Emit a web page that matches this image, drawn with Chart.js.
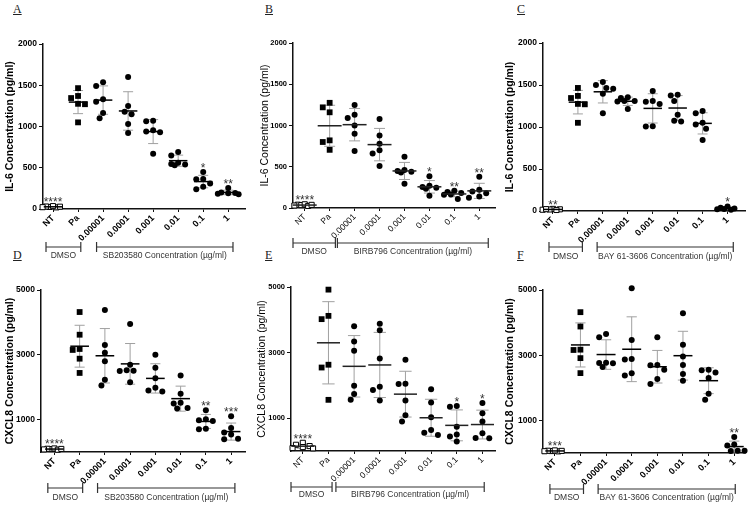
<!DOCTYPE html>
<html>
<head>
<meta charset="utf-8">
<script src="https://cdn.jsdelivr.net/npm/chart.js@4.4.1/dist/chart.umd.min.js"></script>
<style>
    html, body { margin: 0; padding: 0; background: #fff; }
    #wrap { position: relative; width: 750px; height: 508px; overflow: hidden; }
    #wrap canvas { position: absolute; }
    .letter {
        position: absolute;
        font-family: "Liberation Serif", "Times New Roman", serif;
        font-size: 12px;
        line-height: 12px;
        color: #222;
        text-decoration: underline;
    }
</style>
</head>
<body>
<div id="wrap">
    <div class="letter" style="left:13px;top:3px">A</div>
    <div class="letter" style="left:265px;top:3px">B</div>
    <div class="letter" style="left:517px;top:3px">C</div>
    <div class="letter" style="left:13px;top:249px">D</div>
    <div class="letter" style="left:265px;top:249px">E</div>
    <div class="letter" style="left:517px;top:249px">F</div>

    <canvas id="cA" width="250" height="264" style="left:0;top:0"></canvas>
    <canvas id="cB" width="250" height="264" style="left:250px;top:0"></canvas>
    <canvas id="cC" width="250" height="264" style="left:500px;top:0"></canvas>
    <canvas id="cD" width="250" height="258" style="left:0;top:250px"></canvas>
    <canvas id="cE" width="250" height="258" style="left:250px;top:250px"></canvas>
    <canvas id="cF" width="250" height="258" style="left:500px;top:250px"></canvas>
</div>

<script>
/* ======================================================================
   Cytokine scatter panels (IL-6 / CXCL8) – 6 panels, mean ± SD
====================================================================== */

console.log("✓ panels loading");

// Kategorier (x-akse)
const categories = ["NT", "Pa", "0.00001", "0.0001", "0.001", "0.01", "0.1", "1"];

// Y-akse ticks
const il6Ticks = [0, 500, 1000, 1500, 2000];
const cxcl8Ticks = [1000, 3000, 5000];

// A – IL-6, SB203580
const il6SB = [
    [25, 30, 20, 35, 28, 22],
    [1465, 1370, 1345, 1275, 1270, 1050],
    [1535, 1490, 1330, 1300, 1165, 1100],
    [1600, 1250, 1180, 1150, 1030, 920],
    [1070, 1065, 955, 940, 930, 670],
    [690, 650, 560, 545, 540, 530],
    [450, 365, 360, 310, 270, 240],
    [255, 200, 195, 190, 185, 180]
];
const starsA = ["****", "", "", "", "", "", "*", "**"];

// B – IL-6, BIRB796
const il6BIRB = [
    [40, 35, 30, 45, 25, 38],
    [1275, 1220, 1160, 820, 800, 705],
    [1250, 1130, 1090, 1000, 900, 690],
    [1080, 880, 780, 700, 660, 510],
    [620, 460, 450, 440, 430, 295],
    [385, 271, 255, 246, 234, 150],
    [210, 194, 182, 165, 161, 110],
    [380, 220, 200, 180, 140, 125]
];
const starsB = ["****", "", "", "", "", "*", "**", "**"];

// C – IL-6, BAY 61-3606
const il6BAY = [
    [20, 15, 25, 18, 22, 12],
    [1465, 1370, 1345, 1275, 1270, 1050],
    [1535, 1500, 1465, 1455, 1395, 1165],
    [1355, 1345, 1310, 1310, 1305, 1215],
    [1430, 1310, 1300, 1275, 1010, 1005],
    [1385, 1375, 1310, 1145, 1075, 1065],
    [1190, 1165, 1050, 1030, 980, 845],
    [55, 40, 30, 25, 20, 15]
];
const starsC = ["**", "", "", "", "", "", "", "*"];

// D – CXCL8, SB203580
const cxcl8SB = [
    [90, 110, 70, 100, 80, 95],
    [4320, 3620, 3180, 3150, 2880, 2440],
    [4380, 3300, 3060, 2800, 2230, 2050],
    [3950, 2690, 2520, 2510, 2500, 2150],
    [3000, 2600, 2280, 1980, 1900, 1870],
    [2360, 1800, 1520, 1500, 1360, 1340],
    [1290, 1010, 980, 960, 720, 700],
    [1100, 740, 600, 540, 410, 390]
];
const starsD = ["****", "", "", "", "", "", "**", "***"];

// E – CXCL8, BIRB796
const cxcl8BIRB = [
    [250, 190, 150, 120, 90, 80],
    [4920, 4120, 4020, 2630, 2545, 1560],
    [3800, 3340, 3060, 1990, 1740, 1560],
    [3880, 3680, 2820, 1960, 1860, 1540],
    [2780, 2050, 2040, 1540, 1090, 900],
    [1880, 1480, 1030, 640, 560, 490],
    [1370, 1350, 740, 500, 440, 290],
    [1460, 1150, 900, 540, 400, 390]
];
const starsE = ["****", "", "", "", "", "", "*", "*"];

// F – CXCL8, BAY 61-3606
const cxcl8BAY = [
    [60, 70, 50, 80, 55, 65],
    [4320, 3880, 3170, 3160, 2910, 2450],
    [3650, 3550, 2770, 2760, 2750, 2640],
    [5050, 3470, 2880, 2870, 2450, 2380],
    [3550, 2700, 2690, 2550, 2270, 2120],
    [4290, 3320, 2960, 2700, 2420, 2220],
    [2550, 2540, 2470, 2300, 1820, 1630],
    [490, 260, 230, 70, 70, 60]
];
const starsF = ["***", "", "", "", "", "", "", "**"];

/* ======================================================================
   PANEL-OPPSETT (kun layout / stil)
====================================================================== */
const panels = [
    { id: "cA", h: 264, axisW: 43, padTop: 44, plotBottom: 209, padRight: 3, xMin: -0.4, xMax: 7.67,
      bold: true, tickSize: 8.5, catSize: 9, titleSize: 10.5, titlePad: 4,
      title: "IL-6 Concentration (pg/ml)", values: il6SB, stars: starsA, yMax: 2000, yTicks: il6Ticks,
      drug: "SB203580 Concentration (µg/ml)", dmso: [-0.28, 1.11], drugSpan: [1.74, 7.19], brY: 38, txtY: 47,
      meanHalf: 0.37, capHalf: 0.2 },
    { id: "cB", h: 264, axisW: 43, padTop: 43, plotBottom: 208, padRight: 2, xMin: -0.47, xMax: 7.63,
      bold: false, tickSize: 7.5, catSize: 8.5, titleSize: 10.5, titlePad: 9,
      title: "IL-6 Concentration (pg/ml)", values: il6BIRB, stars: starsB, yMax: 2000, yTicks: il6Ticks,
      drug: "BIRB796 Concentration (µg/ml)", dmso: [-0.47, 1.23], drugSpan: [1.31, 7.36], brY: 35, txtY: 44,
      meanHalf: 0.48, capHalf: 0.22 },
    { id: "cC", h: 264, axisW: 43, padTop: 43, plotBottom: 211, padRight: 2, xMin: -0.4, xMax: 7.7,
      bold: true, tickSize: 8.5, catSize: 9, titleSize: 10.5, titlePad: 4,
      title: "IL-6 Concentration (pg/ml)", values: il6BAY, stars: starsC, yMax: 2000, yTicks: il6Ticks,
      drug: "BAY 61-3606 Concentration (µg/ml)", dmso: [-0.16, 1.18], drugSpan: [1.77, 7.23], brY: 36, txtY: 46,
      meanHalf: 0.37, capHalf: 0.2 },
    { id: "cD", h: 258, axisW: 41, padTop: 40, plotBottom: 202, padRight: 3, xMin: -0.53, xMax: 7.55,
      bold: true, tickSize: 8.5, catSize: 9, titleSize: 10.5, titlePad: 4,
      title: "CXCL8 Concentration (pg/ml)", values: cxcl8SB, stars: starsD, yMax: 5000, yTicks: cxcl8Ticks,
      drug: "SB203580 Concentration (µg/ml)", dmso: [-0.26, 1.12], drugSpan: [1.71, 7.15], brY: 36, txtY: 46,
      meanHalf: 0.37, capHalf: 0.2 },
    { id: "cE", h: 258, axisW: 41, padTop: 37, plotBottom: 201, padRight: 0, xMin: -0.46, xMax: 7.49,
      bold: false, tickSize: 7.5, catSize: 8.5, titleSize: 10.5, titlePad: 6,
      title: "CXCL8 Concentration (pg/ml)", values: cxcl8BIRB, stars: starsE, yMax: 5000, yTicks: cxcl8Ticks,
      drug: "BIRB796 Concentration (µg/ml)", dmso: [-0.46, 1.14], drugSpan: [1.29, 7.07], brY: 36, txtY: 44,
      meanHalf: 0.45, capHalf: 0.24 },
    { id: "cF", h: 258, axisW: 43, padTop: 40, plotBottom: 203, padRight: 2, xMin: -0.46, xMax: 7.42,
      bold: true, tickSize: 8.5, catSize: 9, titleSize: 10.5, titlePad: 4,
      title: "CXCL8 Concentration (pg/ml)", values: cxcl8BAY, stars: starsF, yMax: 5000, yTicks: cxcl8Ticks,
      drug: "BAY 61-3606 Concentration (µg/ml)", dmso: [-0.19, 1.12], drugSpan: [1.69, 7.04], brY: 36, txtY: 45,
      meanHalf: 0.37, capHalf: 0.2 }
];

/* ======================================================================
   HELPERS
====================================================================== */
function mean(a) {
    return a.reduce((s, v) => s + v, 0) / a.length;
}

function sd(a) {
    const m = mean(a);
    return Math.sqrt(a.reduce((s, v) => s + (v - m) * (v - m), 0) / (a.length - 1));
}

// Beeswarm: hvert punkt får minste sideforskyvning uten overlapp
function swarm(values, pxX, pxY) {
    const minDist = 6.3;
    const cands = [0, -3.5, 3.5, -7, 7, -10.5, 10.5];
    const order = values.map((v, i) => i).sort((a, b) => values[b] - values[a]);
    const offs = new Array(values.length).fill(0);
    const placed = [];
    order.forEach(idx => {
        const y = values[idx] * pxY;
        let best = 0, bestD = -1;
        for (const c of cands) {
            const dmin = placed.reduce((m, q) => Math.min(m, Math.hypot(q.x - c, q.y - y)), Infinity);
            if (dmin >= minDist) { best = c; break; }
            if (dmin > bestD) { bestD = dmin; best = c; }
        }
        placed.push({ x: best, y });
        offs[idx] = best / pxX;
    });
    return offs;
}

/* ======================================================================
   PLUGIN – SD, gjennomsnitt, stjerner og klammer
====================================================================== */
function makeDecor(p) {
    return {
        id: "decor_" + p.id,
        beforeDatasetsDraw(chart) {
            const ctx = chart.ctx, xs = chart.scales.x, ys = chart.scales.y;
            const unit = xs.getPixelForValue(1) - xs.getPixelForValue(0);
            ctx.save();
            ctx.strokeStyle = "#a0a0a0";
            ctx.lineWidth = 1;
            p.values.forEach((vals, i) => {
                const m = mean(vals), s = sd(vals);
                const x = xs.getPixelForValue(i);
                const y1 = ys.getPixelForValue(m + s);
                const y2 = ys.getPixelForValue(Math.max(0, m - s));
                const hw = p.capHalf * unit;
                ctx.beginPath();
                ctx.moveTo(x, y1); ctx.lineTo(x, y2);
                ctx.moveTo(x - hw, y1); ctx.lineTo(x + hw, y1);
                ctx.moveTo(x - hw, y2); ctx.lineTo(x + hw, y2);
                ctx.stroke();
            });
            ctx.restore();
        },
        afterDatasetsDraw(chart) {
            const ctx = chart.ctx, xs = chart.scales.x, ys = chart.scales.y;
            const unit = xs.getPixelForValue(1) - xs.getPixelForValue(0);
            const area = chart.chartArea;
            ctx.save();

            // Gjennomsnitt
            ctx.strokeStyle = p.bold ? "#000" : "#222";
            ctx.lineWidth = 1.5;
            p.values.forEach((vals, i) => {
                const x = xs.getPixelForValue(i);
                const y = ys.getPixelForValue(mean(vals));
                ctx.beginPath();
                ctx.moveTo(x - p.meanHalf * unit, y);
                ctx.lineTo(x + p.meanHalf * unit, y);
                ctx.stroke();
            });

            // Signifikans-stjerner
            ctx.fillStyle = "#333";
            ctx.font = "12px 'Liberation Sans', Arial, sans-serif";
            ctx.textAlign = "center";
            ctx.textBaseline = "alphabetic";
            p.values.forEach((vals, i) => {
                if (!p.stars[i]) return;
                const top = Math.min(
                    ys.getPixelForValue(Math.max(...vals)) - 3,
                    ys.getPixelForValue(mean(vals) + sd(vals))
                );
                ctx.fillText(p.stars[i], xs.getPixelForValue(i), top + 3);
            });

            // Klammer under x-aksen
            const by = area.bottom + p.brY;
            const ty = area.bottom + p.txtY;
            ctx.strokeStyle = "#333";
            ctx.lineWidth = 1.2;
            ctx.textBaseline = "middle";
            ctx.font = "8.5px 'Liberation Sans', Arial, sans-serif";
            [[p.dmso, "DMSO"], [p.drugSpan, p.drug]].forEach(([span, label]) => {
                const x1 = xs.getPixelForValue(span[0]);
                const x2 = xs.getPixelForValue(span[1]);
                ctx.beginPath();
                ctx.moveTo(x1, by); ctx.lineTo(x2, by);
                ctx.moveTo(x1, by - 5); ctx.lineTo(x1, by + 5);
                ctx.moveTo(x2, by - 5); ctx.lineTo(x2, by + 5);
                ctx.stroke();
                ctx.fillText(label, (x1 + x2) / 2, ty);
            });
            ctx.restore();
        }
    };
}

/* ======================================================================
   TEGN ETT PANEL
====================================================================== */
function drawPanel(p) {
    const canvas = document.getElementById(p.id);
    const plotW = canvas.width - p.padRight - p.axisW;
    const pxX = plotW / (p.xMax - p.xMin);
    const pxY = (p.plotBottom - p.padTop) / p.yMax;
    const weight = p.bold ? "bold" : "normal";
    const family = "'Liberation Sans', Arial, sans-serif";

    const datasets = p.values.map((vals, i) => {
        const offs = swarm(vals, pxX, pxY);
        return {
            label: categories[i],
            data: vals.map((v, k) => ({ x: i + offs[k], y: v })),
            pointStyle: i < 2 ? "rect" : "circle",
            pointRadius: i === 0 ? 3.6 : (i === 1 ? 4.1 : 3),
            backgroundColor: i === 0 ? "#fff" : "#000",
            borderColor: "#000",
            borderWidth: i === 0 ? 1 : 0,
            clip: false
        };
    });

    new Chart(canvas, {
        type: "scatter",
        data: { datasets },
        options: {
            responsive: false,
            animation: false,
            events: [],
            layout: { padding: { top: p.padTop, right: p.padRight, bottom: 0, left: 0 } },
            plugins: { legend: { display: false }, tooltip: { enabled: false } },
            scales: {
                x: {
                    type: "linear",
                    min: p.xMin,
                    max: p.xMax,
                    border: { display: true, color: "#111", width: 1.5 },
                    grid: { display: true, drawOnChartArea: false, drawTicks: true, tickLength: 3, color: "#111", lineWidth: 1 },
                    afterBuildTicks: s => { s.ticks = categories.map((c, i) => ({ value: i })); },
                    afterFit: s => { s.height = p.h - p.plotBottom; },
                    ticks: {
                        autoSkip: false,
                        minRotation: 45,
                        maxRotation: 45,
                        padding: 1,
                        color: "#000",
                        font: { family, size: p.catSize, weight },
                        callback: v => categories[v]
                    }
                },
                y: {
                    min: 0,
                    max: p.yMax,
                    border: { display: true, color: "#111", width: 1.5 },
                    grid: { display: true, drawOnChartArea: false, drawTicks: true, tickLength: 4, color: "#111", lineWidth: 1 },
                    afterBuildTicks: s => { s.ticks = p.yTicks.map(v => ({ value: v })); },
                    afterFit: s => { s.width = p.axisW; },
                    ticks: {
                        padding: 2,
                        color: "#000",
                        font: { family, size: p.tickSize, weight: "bold" },
                        callback: v => String(v)
                    },
                    title: {
                        display: true,
                        text: p.title,
                        color: "#000",
                        padding: { top: p.titlePad, bottom: 0 },
                        font: { family, size: p.titleSize, weight }
                    }
                }
            }
        },
        plugins: [makeDecor(p)]
    });
}

panels.forEach(drawPanel);
</script>
</body>
</html>
